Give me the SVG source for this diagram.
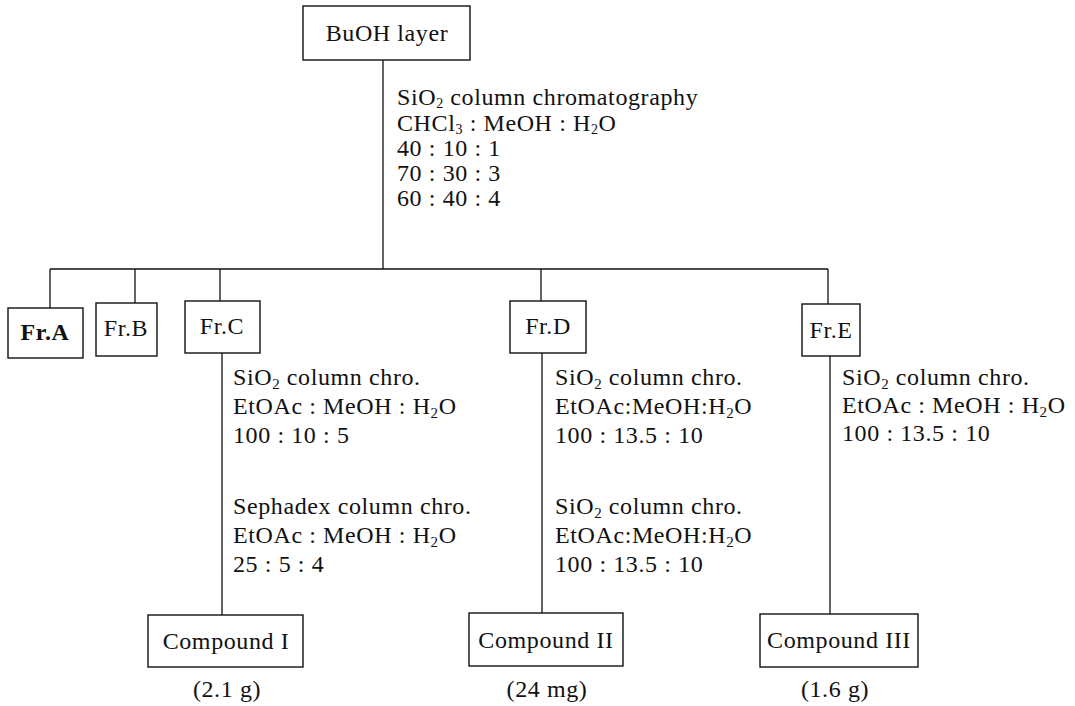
<svg xmlns="http://www.w3.org/2000/svg" width="1075" height="706" viewBox="0 0 1075 706">
<style>
text{font-family:"Liberation Serif","Times New Roman",serif;font-size:24px;fill:#111;letter-spacing:0.6px}
.c{text-anchor:middle}
.s{font-size:15px}
.t{font-size:14px}
.b{fill:#fff;stroke:#111;stroke-width:1.4}
.l{stroke:#111;stroke-width:1.3;fill:none}
</style>
<rect width="1075" height="706" fill="#fff"/>
<g id="connectors">
<path class="l" d="M383 60V269M50 269H828M50 269V308M135 269V303M220 269V301M541 269V301M828 269V304"/>
<path class="l" d="M222 353V615M542 353V613M830 356V614"/>
</g>
<g id="buoh">
<rect class="b" x="303" y="6" width="167" height="54"/>
<text class="c" x="387" y="41">BuOH layer</text>
</g>
<g id="label-buoh">
<text x="397" y="105">SiO<tspan class="t" dy="3">2</tspan><tspan dy="-3"> column chromatography</tspan></text>
<text x="397" y="131">CHCl<tspan class="t" dy="3">3</tspan><tspan dy="-3"> : MeOH : H</tspan><tspan class="t" dy="3">2</tspan><tspan dy="-3">O</tspan></text>
<text x="397" y="156">40 : 10 : 1</text>
<text x="397" y="181">70 : 30 : 3</text>
<text x="397" y="206">60 : 40 : 4</text>
</g>
<g id="frA"><rect class="b" x="8" y="308" width="75" height="50"/><text class="c" x="45" y="340" font-weight="bold">Fr.A</text></g>
<g id="frB"><rect class="b" x="96" y="303" width="61" height="53"/><text class="c" x="126" y="336">Fr.B</text></g>
<g id="frC"><rect class="b" x="185" y="301" width="75" height="52"/><text class="c" x="222" y="334">Fr.C</text></g>
<g id="frD"><rect class="b" x="510" y="301" width="76" height="52"/><text class="c" x="548" y="334">Fr.D</text></g>
<g id="frE"><rect class="b" x="802" y="304" width="58" height="52"/><text class="c" x="831" y="338">Fr.E</text></g>
<g id="label-frC">
<text x="233" y="385">SiO<tspan class="s" dy="4">2</tspan><tspan dy="-4"> column chro.</tspan></text>
<text x="233" y="414">EtOAc : MeOH : H<tspan class="s" dy="4">2</tspan><tspan dy="-4">O</tspan></text>
<text x="233" y="443">100 : 10 : 5</text>
<text x="233" y="514">Sephadex column chro.</text>
<text x="233" y="543">EtOAc : MeOH : H<tspan class="s" dy="4">2</tspan><tspan dy="-4">O</tspan></text>
<text x="233" y="572">25 : 5 : 4</text>
</g>
<g id="label-frD">
<text x="555" y="385">SiO<tspan class="s" dy="4">2</tspan><tspan dy="-4"> column chro.</tspan></text>
<text x="555" y="414">EtOAc:MeOH:H<tspan class="s" dy="4">2</tspan><tspan dy="-4">O</tspan></text>
<text x="555" y="443">100 : 13.5 : 10</text>
<text x="555" y="514">SiO<tspan class="s" dy="4">2</tspan><tspan dy="-4"> column chro.</tspan></text>
<text x="555" y="543">EtOAc:MeOH:H<tspan class="s" dy="4">2</tspan><tspan dy="-4">O</tspan></text>
<text x="555" y="572">100 : 13.5 : 10</text>
</g>
<g id="label-frE">
<text x="842" y="385">SiO<tspan class="s" dy="4">2</tspan><tspan dy="-4"> column chro.</tspan></text>
<text x="842" y="413">EtOAc : MeOH : H<tspan class="s" dy="4">2</tspan><tspan dy="-4">O</tspan></text>
<text x="842" y="441">100 : 13.5 : 10</text>
</g>
<g id="compound1"><rect class="b" x="148" y="615" width="155" height="52"/><text class="c" x="226" y="649">Compound I</text><text class="c" x="227" y="697">(2.1 g)</text></g>
<g id="compound2"><rect class="b" x="469" y="613" width="154" height="53"/><text class="c" x="546" y="648">Compound II</text><text class="c" x="547" y="697">(24 mg)</text></g>
<g id="compound3"><rect class="b" x="760" y="614" width="158" height="53"/><text class="c" x="839" y="648">Compound III</text><text class="c" x="835" y="697">(1.6 g)</text></g>
</svg>
